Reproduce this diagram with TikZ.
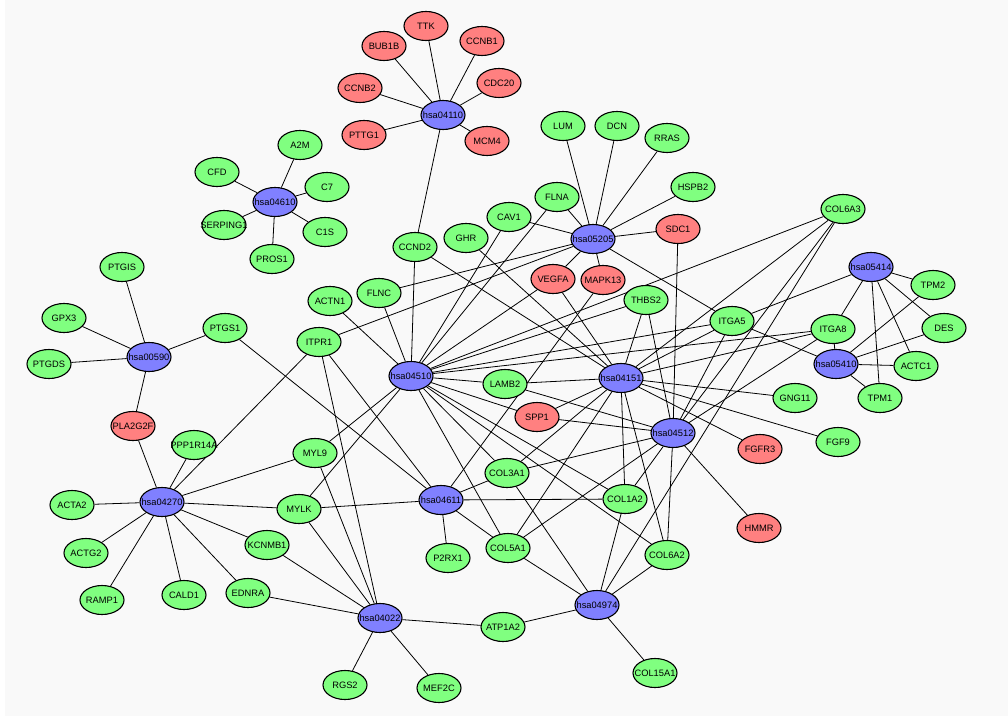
\documentclass[tikz,border=0pt]{standalone}
\usepackage{fontspec}
\setmainfont{Liberation Sans}
\usetikzlibrary{shapes.geometric}
\pgfdeclarelayer{bg}
\pgfsetlayers{bg,main}
\definecolor{gfill}{HTML}{80FF80}
\definecolor{rfill}{HTML}{FF8080}
\definecolor{bfill}{HTML}{8080FF}
\definecolor{paper}{HTML}{F9F9F9}
\newcommand\mynode[4]{\node[#1] (#2) at (#3) {\makebox[0pt]{#4}};}
\begin{document}
\begin{tikzpicture}[x=1pt,y=-1pt,
  nd/.style={ellipse,draw=black,line width=1.1pt,minimum width=44pt,minimum height=29pt,inner sep=0pt,font=\fontsize{9.3}{10}\selectfont},
  gn/.style={nd,fill=gfill},
  rn/.style={nd,fill=rfill},
  bn/.style={nd,fill=bfill},
  conn/.style={line width=0.8pt,draw=black}]
\useasboundingbox (0,0) rectangle (1008,719);
% hubs
\mynode{bn}{hsa04110}{443,115}{hsa04110}
\mynode{bn}{hsa04610}{275,202}{hsa04610}
\mynode{bn}{hsa00590}{149,357}{hsa00590}
\mynode{bn}{hsa05205}{593,239}{hsa05205}
\mynode{bn}{hsa05414}{871,267}{hsa05414}
\mynode{bn}{hsa05410}{836,364}{hsa05410}
\mynode{bn}{hsa04510}{411,376}{hsa04510}
\mynode{bn}{hsa04151}{621,378}{hsa04151}
\mynode{bn}{hsa04512}{673,433}{hsa04512}
\mynode{bn}{hsa04270}{162,502}{hsa04270}
\mynode{bn}{hsa04611}{441,500}{hsa04611}
\mynode{bn}{hsa04974}{597,605}{hsa04974}
\mynode{bn}{hsa04022}{380,618}{hsa04022}
% red
\mynode{rn}{TTK}{426,26}{TTK}
\mynode{rn}{BUB1B}{384,46}{BUB1B}
\mynode{rn}{CCNB1}{482,41}{CCNB1}
\mynode{rn}{CCNB2}{360,88}{CCNB2}
\mynode{rn}{CDC20}{499,83}{CDC20}
\mynode{rn}{PTTG1}{364,135}{PTTG1}
\mynode{rn}{MCM4}{487,141}{MCM4}
\mynode{rn}{SDC1}{678,229}{SDC1}
\mynode{rn}{VEGFA}{553,279}{VEGFA}
\mynode{rn}{MAPK13}{603,280}{MAPK13}
\mynode{rn}{SPP1}{537,417}{SPP1}
\mynode{rn}{FGFR3}{760,449}{FGFR3}
\mynode{rn}{HMMR}{759,528}{HMMR}
\mynode{rn}{PLA2G2F}{133,426}{PLA2G2F}
% green
\mynode{gn}{A2M}{300,145}{A2M}
\mynode{gn}{CFD}{217,172}{CFD}
\mynode{gn}{C7}{327,187}{C7}
\mynode{gn}{SERPING1}{224,225}{SERPING1}
\mynode{gn}{C1S}{325,232}{C1S}
\mynode{gn}{PROS1}{272,259}{PROS1}
\mynode{gn}{PTGIS}{122,267}{PTGIS}
\mynode{gn}{GPX3}{64,318}{GPX3}
\mynode{gn}{PTGDS}{49,364}{PTGDS}
\mynode{gn}{PTGS1}{225,328}{PTGS1}
\mynode{gn}{LUM}{563,126}{LUM}
\mynode{gn}{DCN}{617,126}{DCN}
\mynode{gn}{RRAS}{667,138}{RRAS}
\mynode{gn}{HSPB2}{693,187}{HSPB2}
\mynode{gn}{FLNA}{557,197}{FLNA}
\mynode{gn}{CAV1}{509,217}{CAV1}
\mynode{gn}{GHR}{466,238}{GHR}
\mynode{gn}{CCND2}{415,247}{CCND2}
\mynode{gn}{COL6A3}{843,209}{COL6A3}
\mynode{gn}{TPM2}{933,285}{TPM2}
\mynode{gn}{DES}{944,328}{DES}
\mynode{gn}{ITGA5}{732,321}{ITGA5}
\mynode{gn}{ITGA8}{833,329}{ITGA8}
\mynode{gn}{ACTC1}{916,366}{ACTC1}
\mynode{gn}{TPM1}{880,398}{TPM1}
\mynode{gn}{GNG11}{795,398}{GNG11}
\mynode{gn}{FGF9}{838,442}{FGF9}
\mynode{gn}{THBS2}{646,300}{THBS2}
\mynode{gn}{FLNC}{379,293}{FLNC}
\mynode{gn}{ACTN1}{330,301}{ACTN1}
\mynode{gn}{ITPR1}{319,342}{ITPR1}
\mynode{gn}{LAMB2}{505,384}{LAMB2}
\mynode{gn}{PPP1R14A}{194,445}{PPP1R14A}
\mynode{gn}{MYL9}{315,453}{MYL9}
\mynode{gn}{COL3A1}{507,473}{COL3A1}
\mynode{gn}{COL1A2}{625,499}{COL1A2}
\mynode{gn}{MYLK}{299,509}{MYLK}
\mynode{gn}{ACTA2}{72,505}{ACTA2}
\mynode{gn}{ACTG2}{86,553}{ACTG2}
\mynode{gn}{KCNMB1}{267,545}{KCNMB1}
\mynode{gn}{P2RX1}{448,558}{P2RX1}
\mynode{gn}{COL5A1}{508,548}{COL5A1}
\mynode{gn}{COL6A2}{667,555}{COL6A2}
\mynode{gn}{RAMP1}{102,600}{RAMP1}
\mynode{gn}{CALD1}{184,595}{CALD1}
\mynode{gn}{EDNRA}{248,593}{EDNRA}
\mynode{gn}{ATP1A2}{503,627}{ATP1A2}
\mynode{gn}{COL15A1}{655,673}{COL15A1}
\mynode{gn}{RGS2}{345,685}{RGS2}
\mynode{gn}{MEF2C}{439,688}{MEF2C}
\begin{pgfonlayer}{bg}
\fill[white] (0,0) rectangle (1008,719);
\fill[paper] (5,0) rectangle (1008,716);
\foreach \a/\b in {
 hsa04110/TTK,hsa04110/BUB1B,hsa04110/CCNB1,hsa04110/CCNB2,hsa04110/CDC20,hsa04110/PTTG1,hsa04110/MCM4,hsa04110/CCND2,
 hsa04610/A2M,hsa04610/CFD,hsa04610/C7,hsa04610/SERPING1,hsa04610/C1S,hsa04610/PROS1,
 hsa00590/PTGIS,hsa00590/GPX3,hsa00590/PTGDS,hsa00590/PTGS1,hsa00590/PLA2G2F,
 hsa04270/PLA2G2F,hsa04270/PPP1R14A,hsa04270/ITPR1,hsa04270/MYL9,hsa04270/ACTA2,hsa04270/ACTG2,hsa04270/RAMP1,hsa04270/CALD1,hsa04270/EDNRA,hsa04270/KCNMB1,hsa04270/MYLK,
 hsa04022/EDNRA,hsa04022/KCNMB1,hsa04022/MYLK,hsa04022/MYL9,hsa04022/ITPR1,hsa04022/RGS2,hsa04022/MEF2C,hsa04022/ATP1A2,
 hsa04611/PTGS1,hsa04611/ITPR1,hsa04611/MYLK,hsa04611/MAPK13,hsa04611/COL3A1,hsa04611/COL1A2,hsa04611/COL5A1,hsa04611/P2RX1,
 hsa04974/ATP1A2,hsa04974/COL15A1,hsa04974/COL3A1,hsa04974/COL1A2,hsa04974/COL5A1,hsa04974/COL6A2,hsa04974/COL6A3,
 hsa05205/LUM,hsa05205/DCN,hsa05205/RRAS,hsa05205/HSPB2,hsa05205/FLNA,hsa05205/CAV1,hsa05205/SDC1,hsa05205/VEGFA,hsa05205/MAPK13,hsa05205/ITGA5,hsa05205/FLNC,hsa05205/ITPR1,
 hsa04510/ACTN1,hsa04510/FLNC,hsa04510/CCND2,hsa04510/CAV1,hsa04510/FLNA,hsa04510/VEGFA,hsa04510/THBS2,hsa04510/COL6A3,hsa04510/ITGA5,hsa04510/ITGA8,hsa04510/LAMB2,hsa04510/SPP1,hsa04510/COL3A1,hsa04510/COL1A2,hsa04510/COL5A1,hsa04510/COL6A2,hsa04510/MYLK,hsa04510/MYL9,
 hsa04151/CCND2,hsa04151/GHR,hsa04151/VEGFA,hsa04151/THBS2,hsa04151/COL6A3,hsa04151/ITGA5,hsa04151/ITGA8,hsa04151/LAMB2,hsa04151/SPP1,hsa04151/GNG11,hsa04151/FGF9,hsa04151/FGFR3,hsa04151/COL3A1,hsa04151/COL1A2,hsa04151/COL5A1,hsa04151/COL6A2,
 hsa04512/THBS2,hsa04512/ITGA5,hsa04512/ITGA8,hsa04512/COL6A3,hsa04512/SDC1,hsa04512/LAMB2,hsa04512/SPP1,hsa04512/COL3A1,hsa04512/COL1A2,hsa04512/COL5A1,hsa04512/COL6A2,hsa04512/HMMR,
 hsa05414/ITGA5,hsa05414/ITGA8,hsa05414/TPM2,hsa05414/DES,hsa05414/ACTC1,hsa05414/TPM1,
 hsa05410/ITGA5,hsa05410/ITGA8,hsa05410/TPM2,hsa05410/DES,hsa05410/ACTC1,hsa05410/TPM1}
 \draw[conn] (\a) -- (\b);
\end{pgfonlayer}
\end{tikzpicture}
\end{document}
